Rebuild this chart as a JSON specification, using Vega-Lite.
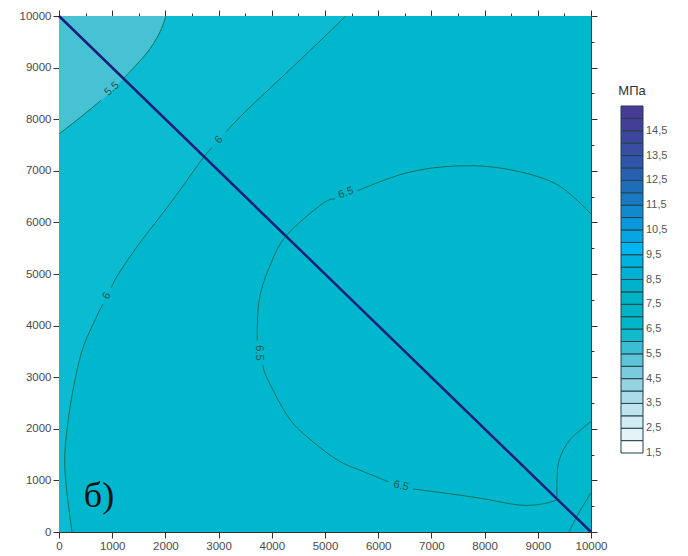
{
  "$schema": "https://vega.github.io/schema/vega-lite/v6.json",
  "padding": {"left": 19, "top": 9, "right": 0, "bottom": 0},
  "background": "white",
  "config": {
    "view": {"stroke": null},
    "axis": {
      "labelFont": "Liberation Sans",
      "labelFontSize": 11.5,
      "labelColor": "#4a4a4a",
      "tickColor": "#333333",
      "domainColor": "#333333",
      "domainWidth": 1,
      "tickWidth": 1,
      "labelPadding": 2,
      "grid": false,
      "zindex": 1,
      "labelOverlap": false
    }
  },
  "datasets": {
    "frame": [{"x0": 0, "x1": 10000, "y0": 0, "y1": 10000}],
    "c6full": [
      {"x": 5395, "y": 10000}, {"x": 4511, "y": 9128}, {"x": 3515, "y": 8159}, {"x": 3008, "y": 7597},
      {"x": 2707, "y": 7248}, {"x": 2124, "y": 6415}, {"x": 1504, "y": 5581}, {"x": 1128, "y": 5019},
      {"x": 902, "y": 4574}, {"x": 695, "y": 4147}, {"x": 432, "y": 3508}, {"x": 226, "y": 2539},
      {"x": 113, "y": 1570}, {"x": 132, "y": 930}, {"x": 244, "y": 0}
    ],
    "c55full": [
      {"x": 0, "y": 7713}, {"x": 432, "y": 8062}, {"x": 940, "y": 8488}, {"x": 1222, "y": 8798},
      {"x": 1635, "y": 9264}, {"x": 1880, "y": 9651}, {"x": 2011, "y": 10000}
    ],
    "contours": [
      {"seg": "s55a", "o": 1, "x": 0, "y": 7713}, {"seg": "s55a", "o": 2, "x": 432, "y": 8062}, {"seg": "s55a", "o": 3, "x": 789, "y": 8365},
      {"seg": "s55b", "o": 1, "x": 1203, "y": 8779}, {"seg": "s55b", "o": 2, "x": 1635, "y": 9264}, {"seg": "s55b", "o": 3, "x": 1880, "y": 9651}, {"seg": "s55b", "o": 4, "x": 2011, "y": 10000},
      {"seg": "s6a", "o": 1, "x": 5395, "y": 10000}, {"seg": "s6a", "o": 2, "x": 4511, "y": 9128}, {"seg": "s6a", "o": 3, "x": 3515, "y": 8159}, {"seg": "s6a", "o": 4, "x": 3139, "y": 7752},
      {"seg": "s6b", "o": 1, "x": 2876, "y": 7442}, {"seg": "s6b", "o": 2, "x": 2707, "y": 7248}, {"seg": "s6b", "o": 3, "x": 2124, "y": 6415}, {"seg": "s6b", "o": 4, "x": 1504, "y": 5581}, {"seg": "s6b", "o": 5, "x": 1128, "y": 5019}, {"seg": "s6b", "o": 6, "x": 977, "y": 4729},
      {"seg": "s6c", "o": 1, "x": 827, "y": 4419}, {"seg": "s6c", "o": 2, "x": 695, "y": 4147}, {"seg": "s6c", "o": 3, "x": 432, "y": 3508}, {"seg": "s6c", "o": 4, "x": 226, "y": 2539}, {"seg": "s6c", "o": 5, "x": 113, "y": 1570}, {"seg": "s6c", "o": 6, "x": 132, "y": 930}, {"seg": "s6c", "o": 7, "x": 244, "y": 0},
      {"seg": "s65a", "o": 1, "x": 10000, "y": 6163}, {"seg": "s65a", "o": 2, "x": 9342, "y": 6744}, {"seg": "s65a", "o": 3, "x": 8402, "y": 7035}, {"seg": "s65a", "o": 4, "x": 7462, "y": 7093}, {"seg": "s65a", "o": 5, "x": 6523, "y": 6957}, {"seg": "s65a", "o": 6, "x": 5602, "y": 6609},
      {"seg": "s65b", "o": 1, "x": 5188, "y": 6453}, {"seg": "s65b", "o": 2, "x": 4944, "y": 6357}, {"seg": "s65b", "o": 3, "x": 4267, "y": 5736}, {"seg": "s65b", "o": 4, "x": 3947, "y": 5116}, {"seg": "s65b", "o": 5, "x": 3759, "y": 4477}, {"seg": "s65b", "o": 6, "x": 3725, "y": 3702},
      {"seg": "s65c", "o": 1, "x": 3835, "y": 3236}, {"seg": "s65c", "o": 2, "x": 3910, "y": 2984}, {"seg": "s65c", "o": 3, "x": 4323, "y": 2209}, {"seg": "s65c", "o": 4, "x": 4756, "y": 1764}, {"seg": "s65c", "o": 5, "x": 5263, "y": 1376}, {"seg": "s65c", "o": 6, "x": 5695, "y": 1182}, {"seg": "s65c", "o": 7, "x": 6203, "y": 969},
      {"seg": "s65d", "o": 1, "x": 6654, "y": 833}, {"seg": "s65d", "o": 2, "x": 6955, "y": 795}, {"seg": "s65d", "o": 3, "x": 7895, "y": 659}, {"seg": "s65d", "o": 4, "x": 8647, "y": 523}, {"seg": "s65d", "o": 5, "x": 9079, "y": 543}, {"seg": "s65d", "o": 6, "x": 9361, "y": 620},
      {"seg": "s65e", "o": 1, "x": 9361, "y": 620}, {"seg": "s65e", "o": 2, "x": 9361, "y": 988}, {"seg": "s65e", "o": 3, "x": 9398, "y": 1376}, {"seg": "s65e", "o": 4, "x": 9586, "y": 1764}, {"seg": "s65e", "o": 5, "x": 9962, "y": 2112}, {"seg": "s65e", "o": 6, "x": 10000, "y": 2132},
      {"seg": "s7", "o": 1, "x": 9586, "y": 0}, {"seg": "s7", "o": 2, "x": 9737, "y": 310}, {"seg": "s7", "o": 3, "x": 9906, "y": 601}, {"seg": "s7", "o": 4, "x": 10000, "y": 756}
    ],
    "diag": [{"x": 0, "y": 10000}, {"x": 10000, "y": 0}],
    "bins": [
      {"lo": 1.5, "hi": 2}, {"lo": 2, "hi": 2.5}, {"lo": 2.5, "hi": 3}, {"lo": 3, "hi": 3.5},
      {"lo": 3.5, "hi": 4}, {"lo": 4, "hi": 4.5}, {"lo": 4.5, "hi": 5}, {"lo": 5, "hi": 5.5},
      {"lo": 5.5, "hi": 6}, {"lo": 6, "hi": 6.5}, {"lo": 6.5, "hi": 7}, {"lo": 7, "hi": 7.5},
      {"lo": 7.5, "hi": 8}, {"lo": 8, "hi": 8.5}, {"lo": 8.5, "hi": 9}, {"lo": 9, "hi": 9.5},
      {"lo": 9.5, "hi": 10}, {"lo": 10, "hi": 10.5}, {"lo": 10.5, "hi": 11}, {"lo": 11, "hi": 11.5},
      {"lo": 11.5, "hi": 12}, {"lo": 12, "hi": 12.5}, {"lo": 12.5, "hi": 13}, {"lo": 13, "hi": 13.5},
      {"lo": 13.5, "hi": 14}, {"lo": 14, "hi": 14.5}, {"lo": 14.5, "hi": 15}, {"lo": 15, "hi": 15.5}
    ],
    "ticksBar": [
      {"v": 1.5, "t": "1,5"}, {"v": 2.5, "t": "2,5"}, {"v": 3.5, "t": "3,5"}, {"v": 4.5, "t": "4,5"},
      {"v": 5.5, "t": "5,5"}, {"v": 6.5, "t": "6,5"}, {"v": 7.5, "t": "7,5"}, {"v": 8.5, "t": "8,5"},
      {"v": 9.5, "t": "9,5"}, {"v": 10.5, "t": "10,5"}, {"v": 11.5, "t": "11,5"}, {"v": 12.5, "t": "12,5"},
      {"v": 13.5, "t": "13,5"}, {"v": 14.5, "t": "14,5"}
    ]
  },
  "spacing": 30,
  "bounds": "flush",
  "hconcat": [
    {
      "width": 532,
      "height": 516,
      "layer": [
        {
          "layer": [
            {
              "data": {"name": "frame"},
              "mark": {"type": "rect", "color": "#00b7cd"},
              "encoding": {
                "x": {"field": "x0", "type": "quantitative", "scale": {"domain": [0, 10000], "nice": false, "zero": false},
                  "axis": {"title": null, "orient": "bottom", "format": "d", "values": [0, 500, 1000, 1500, 2000, 2500, 3000, 3500, 4000, 4500, 5000, 5500, 6000, 6500, 7000, 7500, 8000, 8500, 9000, 9500, 10000],
                    "labelExpr": "datum.value % 1000 === 0 ? datum.label : ''", "labelOverlap": false, "labelFlush": false,
                    "tickSize": {"condition": {"test": "datum.value % 1000 === 0", "value": 6}, "value": 3}}},
                "x2": {"field": "x1"},
                "y": {"field": "y0", "type": "quantitative", "scale": {"domain": [0, 10000], "nice": false, "zero": false},
                  "axis": {"title": null, "orient": "left", "format": "d", "values": [0, 500, 1000, 1500, 2000, 2500, 3000, 3500, 4000, 4500, 5000, 5500, 6000, 6500, 7000, 7500, 8000, 8500, 9000, 9500, 10000],
                    "labelExpr": "datum.value % 1000 === 0 ? datum.label : ''", "labelOverlap": false, "labelFlush": false,
                    "tickSize": {"condition": {"test": "datum.value % 1000 === 0", "value": 6}, "value": 3}}},
                "y2": {"field": "y1"}
              }
            },
            {
              "data": {"name": "c6full"},
              "mark": {"type": "area", "orient": "horizontal", "interpolate": "cardinal", "color": "#0bbbd1"},
              "encoding": {
                "y": {"field": "y", "type": "quantitative"},
                "x": {"field": "x", "type": "quantitative"},
                "x2": {"datum": 0}
              }
            },
            {
              "data": {"name": "c55full"},
              "mark": {"type": "area", "interpolate": "cardinal", "color": "#46c2d4"},
              "encoding": {
                "x": {"field": "x", "type": "quantitative"},
                "y": {"field": "y", "type": "quantitative"},
                "y2": {"datum": 10000}
              }
            },
            {
              "data": {"name": "contours"},
              "mark": {"type": "line", "interpolate": "cardinal", "color": "#17705f", "strokeWidth": 1},
              "encoding": {
                "x": {"field": "x", "type": "quantitative"},
                "y": {"field": "y", "type": "quantitative"},
                "detail": {"field": "seg"},
                "order": {"field": "o"}
              }
            },
            {
              "data": {"values": [{"t": "5.5", "x": 996, "y": 8585}]},
              "mark": {"type": "text", "angle": -42, "font": "Liberation Sans", "fontSize": 11, "color": "#1a5a50", "align": "center", "baseline": "middle"},
              "encoding": {"x": {"field": "x", "type": "quantitative"}, "y": {"field": "y", "type": "quantitative"}, "text": {"field": "t"}}
            },
            {
              "data": {"values": [{"t": "6", "x": 3008, "y": 7597}]},
              "mark": {"type": "text", "angle": -48, "font": "Liberation Sans", "fontSize": 11, "color": "#1a5a50", "align": "center", "baseline": "middle"},
              "encoding": {"x": {"field": "x", "type": "quantitative"}, "y": {"field": "y", "type": "quantitative"}, "text": {"field": "t"}}
            },
            {
              "data": {"values": [{"t": "6", "x": 902, "y": 4574}]},
              "mark": {"type": "text", "angle": -63, "font": "Liberation Sans", "fontSize": 11, "color": "#1a5a50", "align": "center", "baseline": "middle"},
              "encoding": {"x": {"field": "x", "type": "quantitative"}, "y": {"field": "y", "type": "quantitative"}, "text": {"field": "t"}}
            },
            {
              "data": {"values": [{"t": "6.5", "x": 5395, "y": 6570}]},
              "mark": {"type": "text", "angle": -20, "font": "Liberation Sans", "fontSize": 11, "color": "#1a5a50", "align": "center", "baseline": "middle"},
              "encoding": {"x": {"field": "x", "type": "quantitative"}, "y": {"field": "y", "type": "quantitative"}, "text": {"field": "t"}}
            },
            {
              "data": {"values": [{"t": "6.5", "x": 3759, "y": 3469}]},
              "mark": {"type": "text", "angle": 90, "font": "Liberation Sans", "fontSize": 11, "color": "#1a5a50", "align": "center", "baseline": "middle"},
              "encoding": {"x": {"field": "x", "type": "quantitative"}, "y": {"field": "y", "type": "quantitative"}, "text": {"field": "t"}}
            },
            {
              "data": {"values": [{"t": "6.5", "x": 6429, "y": 891}]},
              "mark": {"type": "text", "angle": 12, "font": "Liberation Sans", "fontSize": 11, "color": "#1a5a50", "align": "center", "baseline": "middle"},
              "encoding": {"x": {"field": "x", "type": "quantitative"}, "y": {"field": "y", "type": "quantitative"}, "text": {"field": "t"}}
            },
            {
              "data": {"values": [{"t": "б)", "x": 752, "y": 698}]},
              "mark": {"type": "text", "font": "Liberation Serif", "fontSize": 36, "color": "#111111", "align": "center", "baseline": "middle"},
              "encoding": {"x": {"field": "x", "type": "quantitative"}, "y": {"field": "y", "type": "quantitative"}, "text": {"field": "t"}}
            }
          ]
        },
        {
          "data": {"name": "diag"},
          "mark": {"type": "line", "color": "#1c1d7a", "strokeWidth": 2.5},
          "encoding": {
            "x": {"field": "x", "type": "quantitative",
              "axis": {"title": null, "orient": "top", "labels": false, "values": [0, 500, 1000, 1500, 2000, 2500, 3000, 3500, 4000, 4500, 5000, 5500, 6000, 6500, 7000, 7500, 8000, 8500, 9000, 9500, 10000],
                "tickSize": {"condition": {"test": "datum.value % 1000 === 0", "value": 6}, "value": 3}}},
            "y": {"field": "y", "type": "quantitative",
              "axis": {"title": null, "orient": "right", "labels": false, "values": [0, 500, 1000, 1500, 2000, 2500, 3000, 3500, 4000, 4500, 5000, 5500, 6000, 6500, 7000, 7500, 8000, 8500, 9000, 9500, 10000],
                "tickSize": {"condition": {"test": "datum.value % 1000 === 0", "value": 6}, "value": 3}}}
          }
        }
      ],
      "resolve": {"axis": {"x": "independent", "y": "independent"}}
    },
    {
      "width": 22,
      "height": 516,
      "layer": [
        {
          "data": {"name": "bins"},
          "mark": {"type": "rect", "stroke": "#22404c", "strokeWidth": 1},
          "encoding": {
            "x": {"datum": 0, "type": "quantitative", "scale": {"domain": [0, 1], "nice": false, "zero": false}, "axis": null},
            "x2": {"datum": 1},
            "y": {"field": "lo", "type": "quantitative", "scale": {"domain": [-1.687, 19.131], "nice": false, "zero": false}, "axis": null},
            "y2": {"field": "hi"},
            "color": {"field": "lo", "type": "ordinal", "legend": null,
              "scale": {"domain": [1.5, 2, 2.5, 3, 3.5, 4, 4.5, 5, 5.5, 6, 6.5, 7, 7.5, 8, 8.5, 9, 9.5, 10, 10.5, 11, 11.5, 12, 12.5, 13, 13.5, 14, 14.5, 15],
                "range": ["#ffffff", "#e3f3f8", "#d2ecf3", "#bfe4ee", "#abdbe8", "#95d3e2", "#7ccbdc", "#5ec4d7", "#3bbdd2", "#15b9cd", "#00b6c9", "#00b4c6", "#00b2c5", "#00b1ca", "#00b1d4", "#00b3df", "#00b6ee", "#06a6e4", "#0b97d9", "#1288cd", "#187ac3", "#1f6cb9", "#2760b0", "#2f56a8", "#374ea2", "#3d469d", "#433f99", "#473b96"]}}
          }
        },
        {
          "data": {"name": "ticksBar"},
          "mark": {"type": "text", "font": "Liberation Sans", "fontSize": 11, "color": "#555555", "align": "left", "baseline": "middle", "dx": 14},
          "encoding": {
            "x": {"datum": 0.5, "type": "quantitative"},
            "y": {"field": "v", "type": "quantitative"},
            "text": {"field": "t"}
          }
        },
        {
          "data": {"values": [{"t": "МПа", "x": 0.5, "y": 16.1}]},
          "mark": {"type": "text", "font": "Liberation Sans", "fontSize": 13, "color": "#333333", "align": "center", "baseline": "middle"},
          "encoding": {
            "x": {"field": "x", "type": "quantitative"},
            "y": {"field": "y", "type": "quantitative"},
            "text": {"field": "t"}
          }
        }
      ]
    }
  ]
}
